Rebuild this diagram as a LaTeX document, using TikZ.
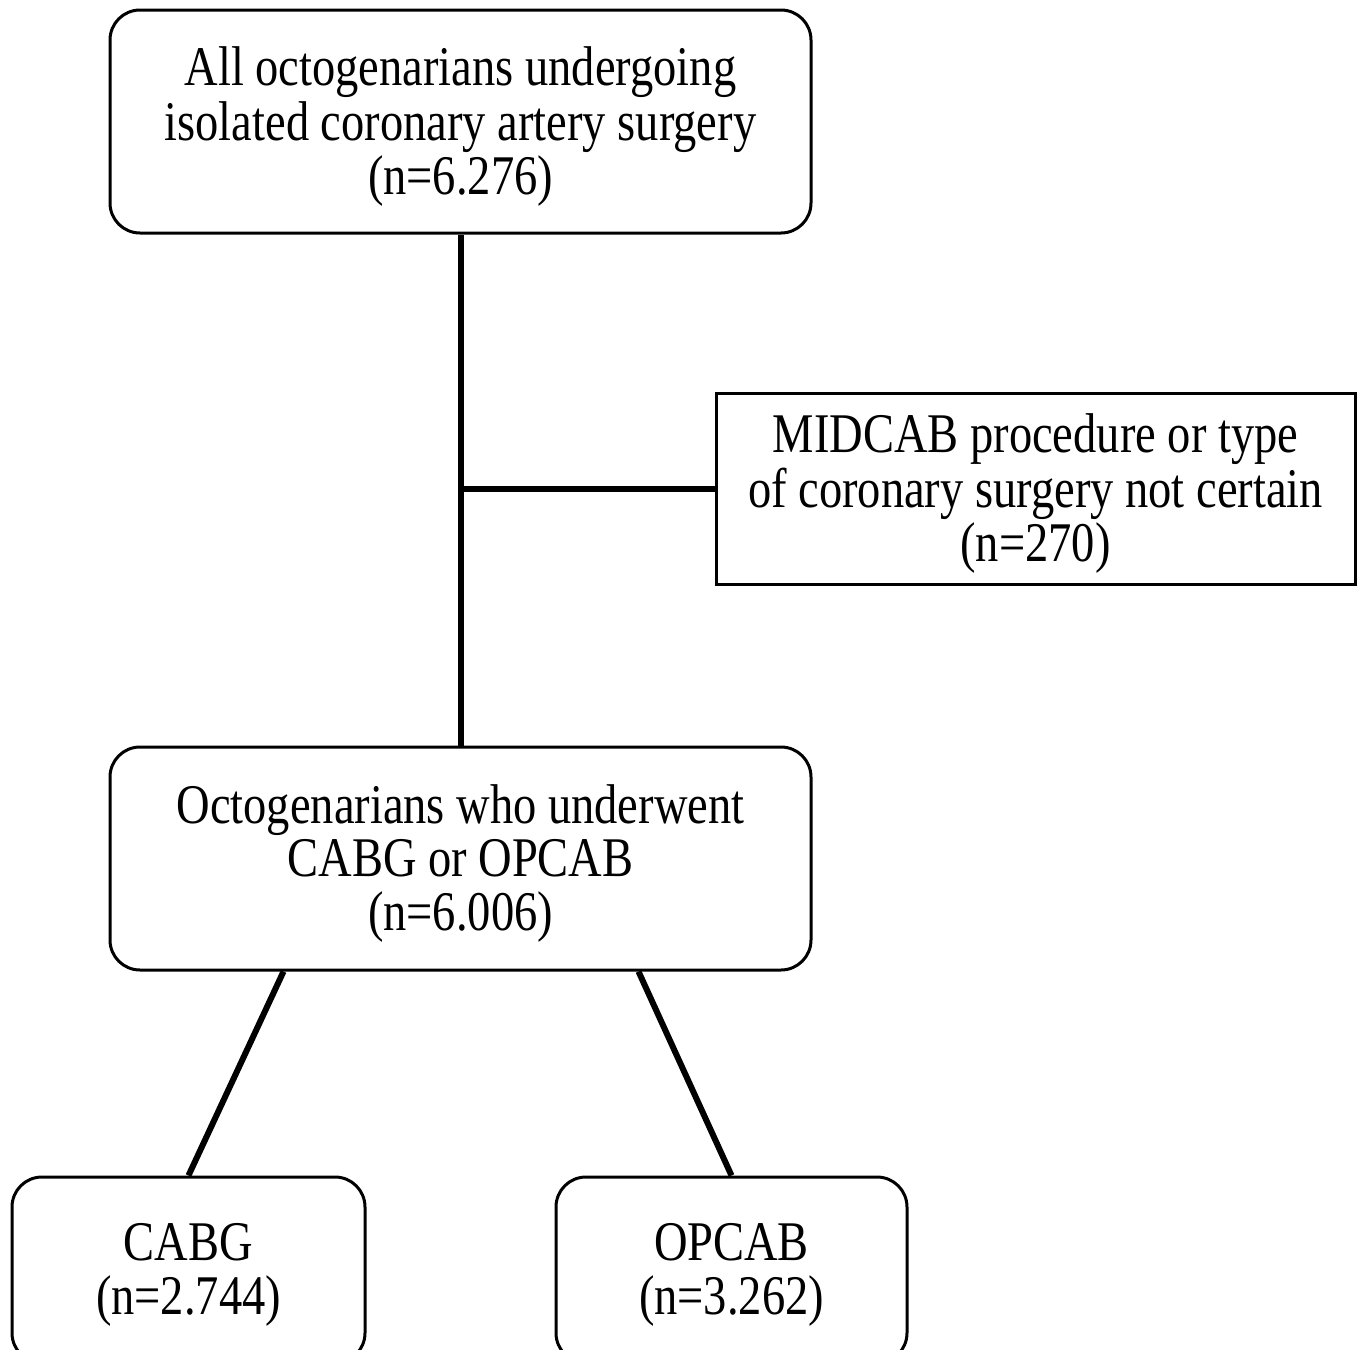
\documentclass[tikz,border=0pt]{standalone}
\usepackage{fontspec}
\setmainfont[FakeStretch=0.83]{Liberation Serif}
\renewcommand{\arraystretch}{0.97}
\newcommand{\blk}[1]{\raisebox{-3.5pt}[\height][\depth]{\begin{tabular}{@{}c@{}}#1\end{tabular}}}
\begin{document}
\begin{tikzpicture}[x=0.5pt,y=-0.5pt,
  txt/.style={font=\fontsize{28}{27}\selectfont, inner sep=0pt},
  rbox/.style={txt, draw, line width=1.5pt, rounded corners=15pt},
  sbox/.style={txt, draw, line width=1.5pt},
  conn/.style={line width=3pt}]
\useasboundingbox (0,0) rectangle (1357,1350);
\begin{scope}
\clip (0,0) rectangle (1357,1350);
\node[rbox, minimum width=350.5pt, minimum height=111.5pt] (top) at (460.5,121.5)
  {\blk{All octogenarians undergoing\\isolated coronary artery surgery\\(n=6.276)}};
\node[sbox, minimum width=319.5pt, minimum height=95.5pt] (excl) at (1035.5,488.5)
  {\blk{MIDCAB procedure or type\\of coronary surgery not certain\\(n=270)}};
\node[rbox, minimum width=350.5pt, minimum height=111.5pt] (mid) at (460.5,858.5)
  {\blk{Octogenarians who underwent\\CABG or OPCAB\\(n=6.006)}};
\node[rbox, minimum width=176.5pt, minimum height=93pt] (cabg) at (188.5,1270)
  {\blk{CABG\\(n=2.744)}};
\node[rbox, minimum width=175.5pt, minimum height=93pt] (opcab) at (731.5,1270)
  {\blk{OPCAB\\(n=3.262)}};
\coordinate (jn) at (top.south |- excl.west);
\draw[conn] (top.south) -- (mid.north);
\draw[conn] ([xshift=-0.75pt]jn) -- (excl.west);
\draw[conn] ([xshift=87.5pt]mid.south west) -- (cabg.north);
\draw[conn] ([xshift=-87pt]mid.south east) -- (opcab.north);
\end{scope}
\end{tikzpicture}
\end{document}
